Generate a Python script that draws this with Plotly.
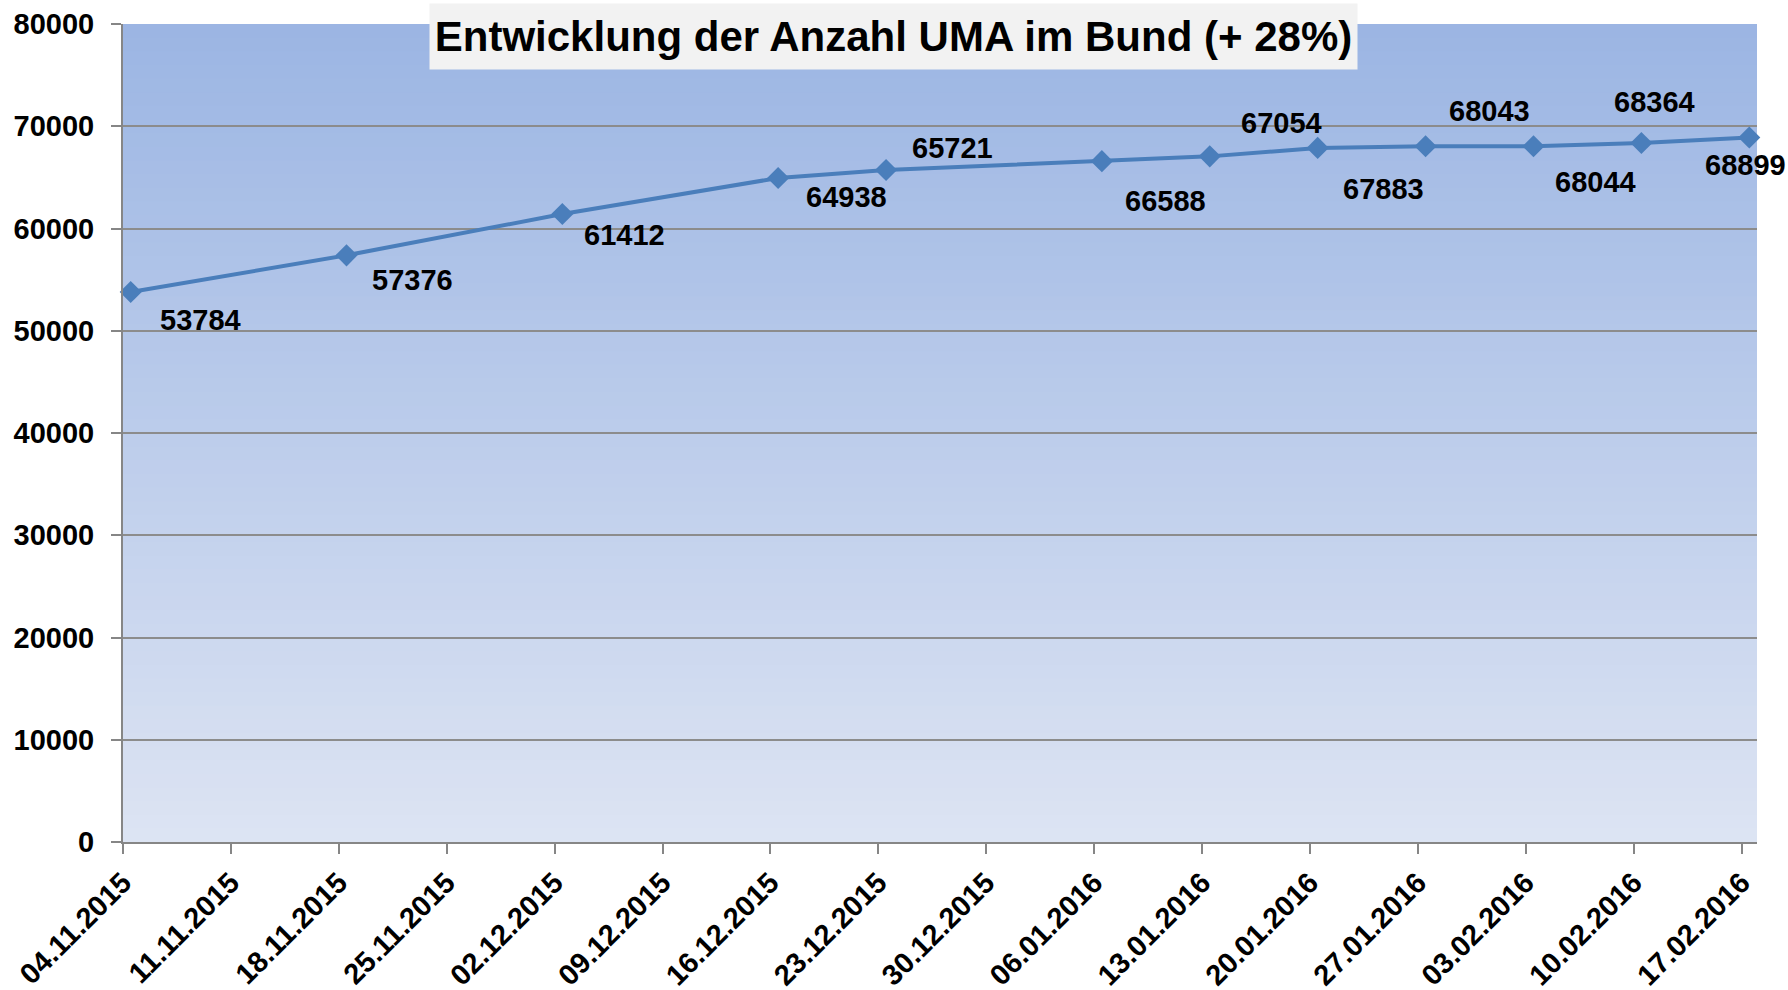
import plotly.graph_objects as go
import pandas as pd

# ---- data ----
dates = ["2015-11-04", "2015-11-18", "2015-12-02", "2015-12-16", "2015-12-23",
         "2016-01-06", "2016-01-13", "2016-01-20", "2016-01-27", "2016-02-03",
         "2016-02-10", "2016-02-17"]
values = [53784, 57376, 61412, 64938, 65721, 66588, 67054, 67883, 68043, 68044,
          68364, 68899]
title_text = "Entwicklung der Anzahl UMA im Bund (+ 28%)"
y_ticks = [0, 10000, 20000, 30000, 40000, 50000, 60000, 70000, 80000]

# label offsets in pixels (style): (dx right, dy down)
label_offsets = [(70, 28), (66, 25), (62, 21), (68, 19), (66, -22), (64, 40),
                 (72, -33), (66, 41), (64, -35), (62, 36), (13, -41), (-4, 27)]

# Excel date axis places points in the middle of the day
x_pts = [pd.Timestamp(d) + pd.Timedelta(hours=12) for d in dates]

FONT = "Liberation Sans"
LINE_COLOR = "#4A7EBB"

fig = go.Figure()
fig.add_trace(go.Scatter(
    x=x_pts, y=values, mode="lines+markers",
    line=dict(color=LINE_COLOR, width=4),
    marker=dict(symbol="diamond", size=17, color=LINE_COLOR),
    cliponaxis=False, showlegend=False, hoverinfo="x+y"))

# gradient background as stacked, slightly overlapping bands
top = (155, 181, 227)
bot = (221, 228, 243)
n = 60
shapes = []
for i in range(n):
    t = (i + 0.5) / n
    c = tuple(round(bot[k] + (top[k] - bot[k]) * t) for k in range(3))
    shapes.append(dict(type="rect", xref="paper", yref="paper",
                       x0=0, x1=1, y0=i / n, y1=min(1.0, (i + 1.6) / n),
                       fillcolor="rgb(%d,%d,%d)" % c, line=dict(width=0),
                       layer="below"))

annotations = []
for x, v, (dx, dy) in zip(x_pts, values, label_offsets):
    annotations.append(dict(x=x, y=v, xref="x", yref="y", text=str(v),
                            showarrow=False, xshift=dx, yshift=-dy,
                            font=dict(family=FONT, size=29, color="black",
                                      weight="bold")))
annotations.append(dict(x=0.4715, y=0.9853, xref="paper", yref="paper",
                        text=title_text, showarrow=False,
                        xanchor="center", yanchor="middle",
                        bgcolor="#F2F2F2", width=919, height=57, borderpad=4,
                        font=dict(family=FONT, size=42, color="black",
                                  weight="bold")))

fig.update_layout(
    width=1788, height=990,
    margin=dict(l=123, r=31, t=24, b=148),
    paper_bgcolor="white", plot_bgcolor="rgba(0,0,0,0)",
    shapes=shapes, annotations=annotations,
    font=dict(family=FONT, color="black"),
)
fig.update_xaxes(
    type="date", range=["2015-11-04", "2016-02-18"], automargin=False,
    tick0="2015-11-04", dtick=7 * 24 * 3600 * 1000, tickformat="%d.%m.%Y",
    tickangle=-45, ticks="outside", ticklen=10, tickwidth=2, tickcolor="#868686",
    showgrid=False, showline=True, linecolor="#868686", linewidth=2,
    tickfont=dict(family=FONT, size=29, color="black", weight="bold"),
    zeroline=False,
)
fig.update_yaxes(
    range=[0, 80000], tickvals=y_ticks, tickformat="d", automargin=False,
    ticks="outside", ticklen=10, tickwidth=2, tickcolor="#868686",
    showgrid=True, gridcolor="#8C8C8C", gridwidth=2,
    showline=True, linecolor="#868686", linewidth=2,
    tickfont=dict(family=FONT, size=29, color="black", weight="bold"),
    zeroline=False, ticklabelstandoff=11,
)

fig.write_html("out.html",
               config={"displayModeBar": False},
               post_script="document.body.style.margin='0';"
                           "document.body.style.overflow='hidden';")
